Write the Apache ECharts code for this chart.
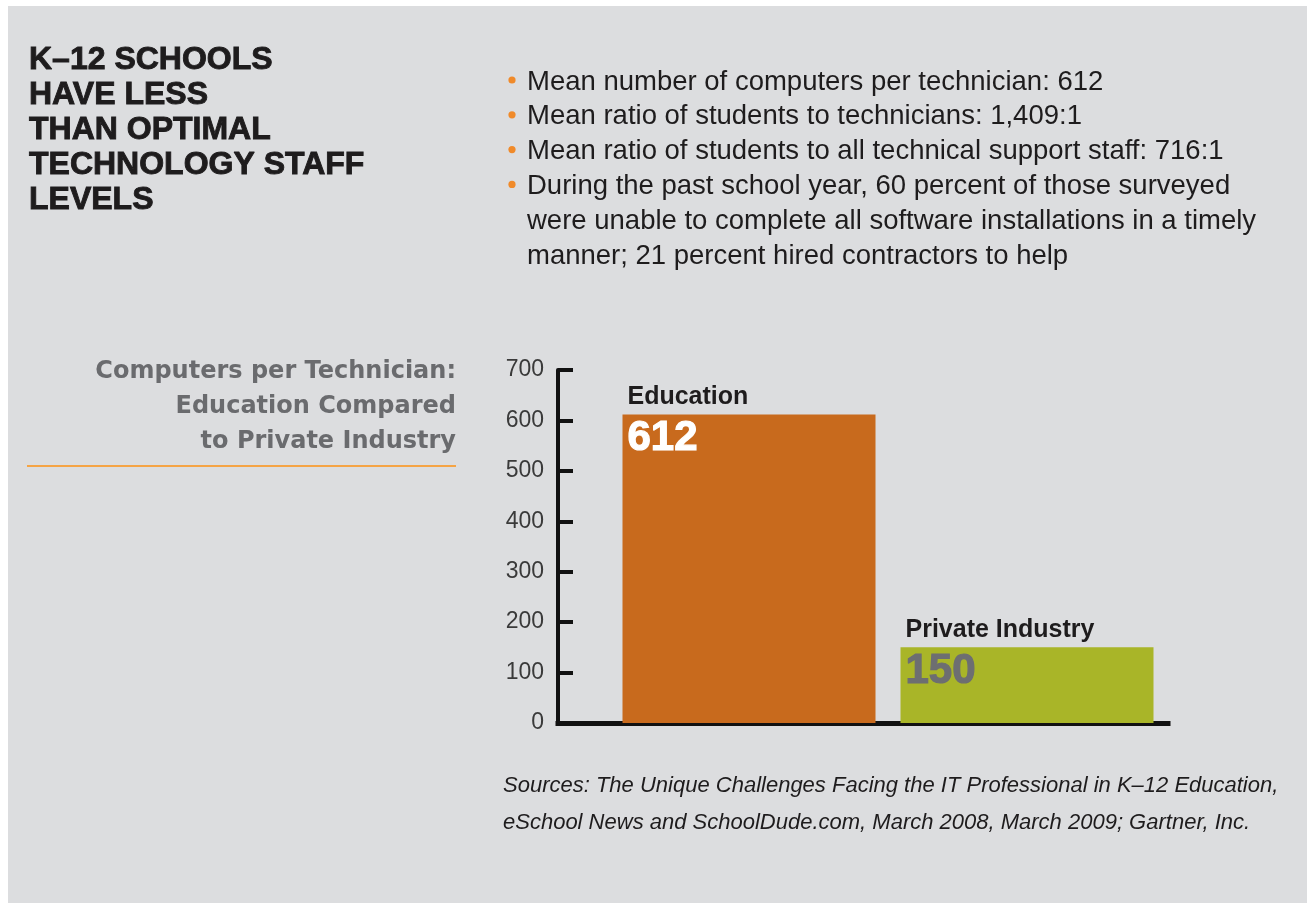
<!DOCTYPE html>
<html>
<head>
<meta charset="utf-8">
<title>K–12 Schools Technology Staff Levels</title>
<script src="https://cdn.jsdelivr.net/npm/echarts@6/dist/echarts.min.js"></script>
<style>
  html, body { margin: 0; padding: 0; background: #ffffff; overflow: hidden; }
  #chart { width: 1307px; height: 903px; }
</style>
</head>
<body>
<div id="chart"></div>
<script>
// ---- Data ----
const categories = ['Education', 'Private Industry'];
const computersPerTechnician = [612, 150];
const yMin = 0;
const yMax = 700;
const yStep = 100;

const titleLines = ['K–12 SCHOOLS', 'HAVE LESS', 'THAN OPTIMAL', 'TECHNOLOGY STAFF', 'LEVELS'];
const subtitleLines = ['Computers per Technician:', 'Education Compared', 'to Private Industry'];
const bulletItems = [
  ['Mean number of computers per technician: 612'],
  ['Mean ratio of students to technicians: 1,409:1'],
  ['Mean ratio of students to all technical support staff: 716:1'],
  ['During the past school year, 60 percent of those surveyed',
   'were unable to complete all software installations in a timely',
   'manner; 21 percent hired contractors to help']
];
const sourceLines = [
  'Sources: The Unique Challenges Facing the IT Professional in K–12 Education,',
  'eSchool News and SchoolDude.com, March 2008, March 2009; Gartner, Inc.'
];

// ---- Styles ----
const barColors = ['#c86a1d', '#a9b528'];
const valueColors = ['#ffffff', '#6d6e71'];
const ink = '#1e1c1d';
const axisInk = '#111111';
const grey = '#6a6b6e';
const accent = '#f08a2a';
const sans = '"Liberation Sans", Arial, sans-serif';

// Plot area shared by the axis frame and the bars
const plotTop = 370;
const plotBottom = 180;

const graphics = [];

// white margin strips around the grey panel
graphics.push({ type: 'rect', shape: { x: 0, y: 0, width: 1307, height: 6 }, style: { fill: '#ffffff' }, silent: true });
graphics.push({ type: 'rect', shape: { x: 0, y: 0, width: 8, height: 903 }, style: { fill: '#ffffff' }, silent: true });

// headline
titleLines.forEach(function (line, i) {
  graphics.push({
    type: 'text',
    style: {
      text: line, x: 29, y: 60 + i * 35,
      fill: ink, stroke: ink, lineWidth: 0.9,
      font: 'bold 32px ' + sans,
      textAlign: 'left', textVerticalAlign: 'middle'
    }
  });
});

// chart subtitle, right aligned
subtitleLines.forEach(function (line, i) {
  graphics.push({
    type: 'text',
    style: {
      text: line, x: 456, y: 372 + i * 35,
      fill: grey,
      font: 'bold 24px "DejaVu Sans", sans-serif',
      textAlign: 'right', textVerticalAlign: 'middle'
    }
  });
});
graphics.push({
  type: 'line',
  shape: { x1: 27, y1: 466, x2: 456, y2: 466 },
  style: { stroke: '#f5a445', lineWidth: 2 }
});

// bullet list
let lineNo = 0;
bulletItems.forEach(function (item) {
  item.forEach(function (line, j) {
    const y = 82 + lineNo * 34.8;
    if (j === 0) {
      graphics.push({ type: 'circle', shape: { cx: 512, cy: y - 2, r: 3.6 }, style: { fill: accent } });
    }
    graphics.push({
      type: 'text',
      style: {
        text: line, x: 527, y: y,
        fill: ink,
        font: '27.5px ' + sans,
        textAlign: 'left', textVerticalAlign: 'middle'
      }
    });
    lineNo++;
  });
});

// sources
sourceLines.forEach(function (line, i) {
  graphics.push({
    type: 'text',
    style: {
      text: line, x: 503, y: 786 + i * 37,
      fill: ink,
      font: 'italic 22px ' + sans,
      textAlign: 'left', textVerticalAlign: 'middle'
    }
  });
});

const barData = computersPerTechnician.map(function (v, i) {
  return {
    value: v,
    itemStyle: { color: barColors[i] },
    label: {
      rich: {
        n: { fontFamily: sans, fontSize: 25, fontWeight: 'bold', color: ink, lineHeight: 35 },
        v: {
          fontFamily: sans, fontSize: 42, fontWeight: 'bold', color: valueColors[i], lineHeight: 49,
          textBorderColor: valueColors[i], textBorderWidth: 1.2
        }
      }
    }
  };
});

const chart = echarts.init(document.getElementById('chart'), null, { renderer: 'canvas' });

chart.setOption({
  backgroundColor: '#dcdddf',
  animation: false,
  graphic: { elements: graphics },
  grid: [
    // frame grid: draws the visible axes
    { left: 558, right: 139, top: plotTop, bottom: plotBottom, outerBoundsMode: 'none', containLabel: false },
    // bar grid
    { left: 610, right: 141, top: plotTop, bottom: plotBottom, outerBoundsMode: 'none', containLabel: false }
  ],
  xAxis: [
    {
      gridIndex: 0, type: 'value', min: 0, max: 1,
      axisLine: { show: true, lineStyle: { color: axisInk, width: 5, cap: 'square' } },
      axisTick: { show: false }, axisLabel: { show: false }, splitLine: { show: false }
    },
    {
      gridIndex: 1, type: 'category', data: categories,
      axisLine: { show: false }, axisTick: { show: false }, axisLabel: { show: false }, splitLine: { show: false }
    }
  ],
  yAxis: [
    {
      gridIndex: 0, type: 'value', min: yMin, max: yMax, interval: yStep,
      axisLine: { show: true, lineStyle: { color: axisInk, width: 4 } },
      axisTick: { show: true, inside: true, length: 15, lineStyle: { color: axisInk, width: 4 } },
      axisLabel: { show: true, margin: 14, color: '#3a3a3a', fontSize: 23, fontFamily: sans },
      splitLine: { show: false }
    },
    {
      gridIndex: 1, type: 'value', min: yMin, max: yMax, interval: yStep, show: false,
      splitLine: { show: false }
    }
  ],
  series: [
    {
      type: 'bar',
      xAxisIndex: 1, yAxisIndex: 1,
      barWidth: 253,
      data: barData,
      label: {
        show: true,
        position: [5, -35],
        align: 'left',
        verticalAlign: 'top',
        formatter: '{n|{b}}\n{v|{c}}'
      }
    }
  ]
});
</script>
</body>
</html>
